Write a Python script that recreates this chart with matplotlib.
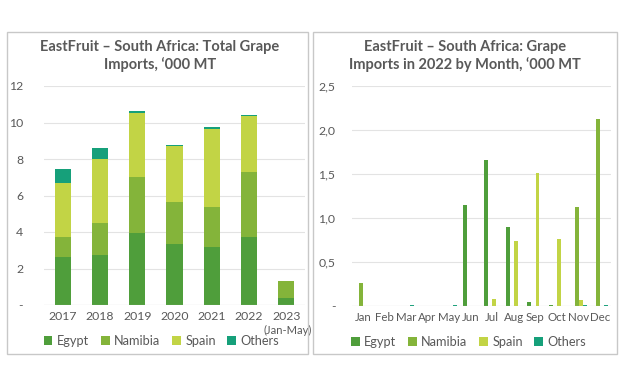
import numpy as np
import matplotlib.pyplot as plt
from matplotlib.patches import Rectangle
from matplotlib.transforms import blended_transform_factory

plt.rcParams['font.family'] = ['Lato', 'DejaVu Sans']

# yearly totals, '000 MT
years = ['2017', '2018', '2019', '2020', '2021', '2022', '2023']
egypt_y = [2.65, 2.72, 3.93, 3.36, 3.20, 3.74, 0.40]
namibia_y = [1.06, 1.79, 3.07, 2.27, 2.19, 3.57, 0.91]
spain_y = [2.99, 3.51, 3.54, 3.08, 4.25, 3.05, 0.00]
others_y = [0.73, 0.58, 0.11, 0.06, 0.10, 0.07, 0.02]

# 2022 by month, '000 MT
months = ['Jan', 'Feb', 'Mar', 'Apr', 'May', 'Jun', 'Jul', 'Aug', 'Sep', 'Oct', 'Nov', 'Dec']
egypt_m = [0, 0, 0, 0, 0, 1.15, 1.66, 0.90, 0.05, 0.01, 0, 0]
namibia_m = [0.26, 0, 0, 0, 0, 0, 0, 0, 0, 0, 1.13, 2.13]
spain_m = [0, 0, 0, 0, 0, 0, 0.08, 0.74, 1.51, 0.76, 0.07, 0]
others_m = [0, 0, 0.01, 0, 0.01, 0, 0, 0, 0, 0, 0.01, 0.01]

series = ['Egypt', 'Namibia', 'Spain', 'Others']
colors = ['#4f9e3b', '#84b43a', '#c2d445', '#16a07a']
txt = '#595959'
grid = '#e3e3e3'

fig = plt.figure(figsize=(6.26, 3.91), dpi=100)

# panel borders
for x0, x1 in [(7, 308), (313, 617)]:
    fig.add_artist(Rectangle((x0 / 626, 1 - 354 / 391), (x1 - x0) / 626, (354 - 32) / 391,
                             transform=fig.transFigure, fill=False, ec='#c8c8c8', lw=1.0))


def style(ax):
    for s in ax.spines.values():
        s.set_visible(False)
    ax.yaxis.grid(True, color=grid, lw=0.8)
    ax.set_axisbelow(True)
    ax.axhline(0, color='#d0d0d0', lw=0.8)
    ax.tick_params(length=0, colors=txt, labelsize=8.8)


legend_kw = dict(loc='center', ncol=4, frameon=False, fontsize=9.2, labelcolor=txt,
                 handlelength=0.7, handleheight=0.7, handletextpad=0.35,
                 columnspacing=0.9, borderaxespad=0)

# left: stacked
ax1 = fig.add_axes([44 / 626, 1 - 305 / 391, 261 / 626, 219 / 391])
x = np.arange(len(years))
bottom = np.zeros(len(years))
for name, vals, c in zip(series, [egypt_y, namibia_y, spain_y, others_y], colors):
    ax1.bar(x, vals, 0.43, bottom=bottom, color=c, label=name)
    bottom += np.array(vals)
ax1.set_xlim(-0.5, len(years) - 0.5)
ax1.set_ylim(0, 12)
ax1.set_yticks(range(0, 13, 2))
ax1.set_yticklabels(['-'] + [str(v) for v in range(2, 13, 2)])
ax1.set_xticks(x)
ax1.set_xticklabels(years)
style(ax1)
ax1.tick_params(axis='x', pad=4)
ax1.tick_params(axis='y', pad=15)
ax1.text(6.03, -0.092, '(Jan-May)', transform=blended_transform_factory(ax1.transData, ax1.transAxes),
         ha='center', va='top', fontsize=8, color=txt)
fig.text(160 / 626, 1 - 56 / 391, 'EastFruit – South Africa: Total Grape\nImports, \u2018000 MT',
         ha='center', va='center', fontsize=10.5, fontweight='bold', color=txt, linespacing=1.3)
ax1.legend(bbox_to_anchor=(0.45, -0.165), **legend_kw)

# right: clustered by month
ax2 = fig.add_axes([352 / 626, 1 - 306 / 391, 259 / 626, 220 / 391])
xm = np.arange(len(months))
w = 0.19
for i, (name, vals, c) in enumerate(zip(series, [egypt_m, namibia_m, spain_m, others_m], colors)):
    ax2.bar(xm + (i - 1.5) * w, vals, w * 0.95, color=c, label=name)
ax2.set_xlim(-0.5, len(months) - 0.5)
ax2.set_ylim(0, 2.5)
ax2.set_yticks([0, 0.5, 1.0, 1.5, 2.0, 2.5])
ax2.set_yticklabels(['-', '0,5', '1,0', '1,5', '2,0', '2,5'])
ax2.set_xticks(xm)
ax2.set_xticklabels(months)
style(ax2)
ax2.tick_params(axis='x', pad=4, labelsize=8.3)
ax2.tick_params(axis='y', pad=12)
fig.text(465 / 626, 1 - 56 / 391, 'EastFruit – South Africa: Grape\nImports in 2022 by Month, \u2018000 MT',
         ha='center', va='center', fontsize=10.5, fontweight='bold', color=txt, linespacing=1.3)
ax2.legend(bbox_to_anchor=(0.45, -0.165), **legend_kw)

fig.savefig('out.png', dpi=100, facecolor='white')
